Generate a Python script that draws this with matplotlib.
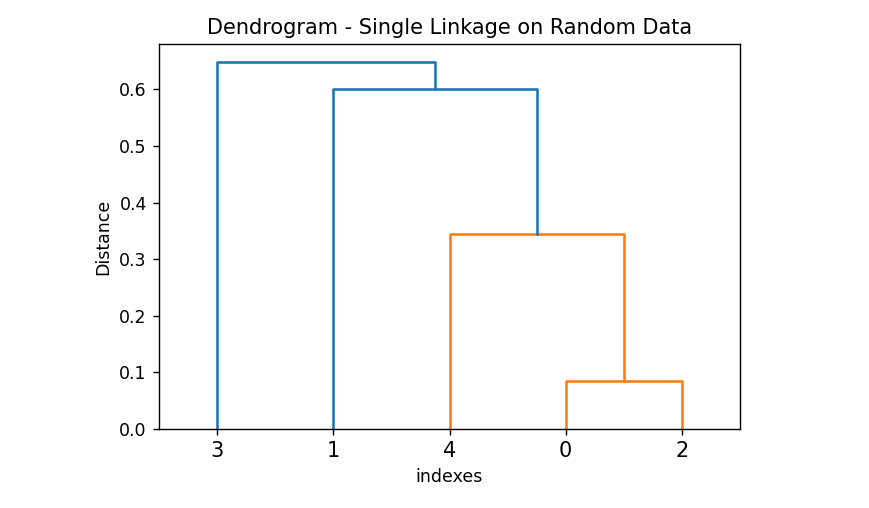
import matplotlib
matplotlib.use("Agg")
import matplotlib.pyplot as plt

# leaf order as shown on the x axis
leaves = [3, 1, 4, 0, 2]
# merges: (left node, right node, distance); new nodes get ids 5, 6, 7, 8
merges = [(0, 2, 0.084), (4, 5, 0.344), (1, 6, 0.601), (3, 7, 0.648)]
threshold = 0.7 * max(m[2] for m in merges)

dpi = 125
fig = plt.figure(figsize=(869 / dpi, 508 / dpi), dpi=dpi)
ax = fig.add_axes([159 / 869, 79 / 508, 581 / 869, 385 / 508])

xpos = {leaf: 5 + 10 * i for i, leaf in enumerate(leaves)}
ypos = {leaf: 0.0 for leaf in leaves}
for k, (a, b, h) in enumerate(merges):
    node = len(leaves) + k
    col = 'C1' if h < threshold else 'C0'
    ax.plot([xpos[a], xpos[a], xpos[b], xpos[b]],
            [ypos[a], h, h, ypos[b]], color=col, lw=1.5)
    xpos[node] = (xpos[a] + xpos[b]) / 2
    ypos[node] = h

ax.set_xlim(0, 10 * len(leaves))
ax.set_ylim(0, max(m[2] for m in merges) * 1.05)
ax.set_xticks([5 + 10 * i for i in range(len(leaves))])
ax.set_xticklabels([str(l) for l in leaves], fontsize=12)
ax.set_title("Dendrogram - Single Linkage on Random Data", fontsize=12)
ax.set_xlabel("indexes")
ax.set_ylabel("Distance")

fig.savefig("out.png", dpi=dpi)
